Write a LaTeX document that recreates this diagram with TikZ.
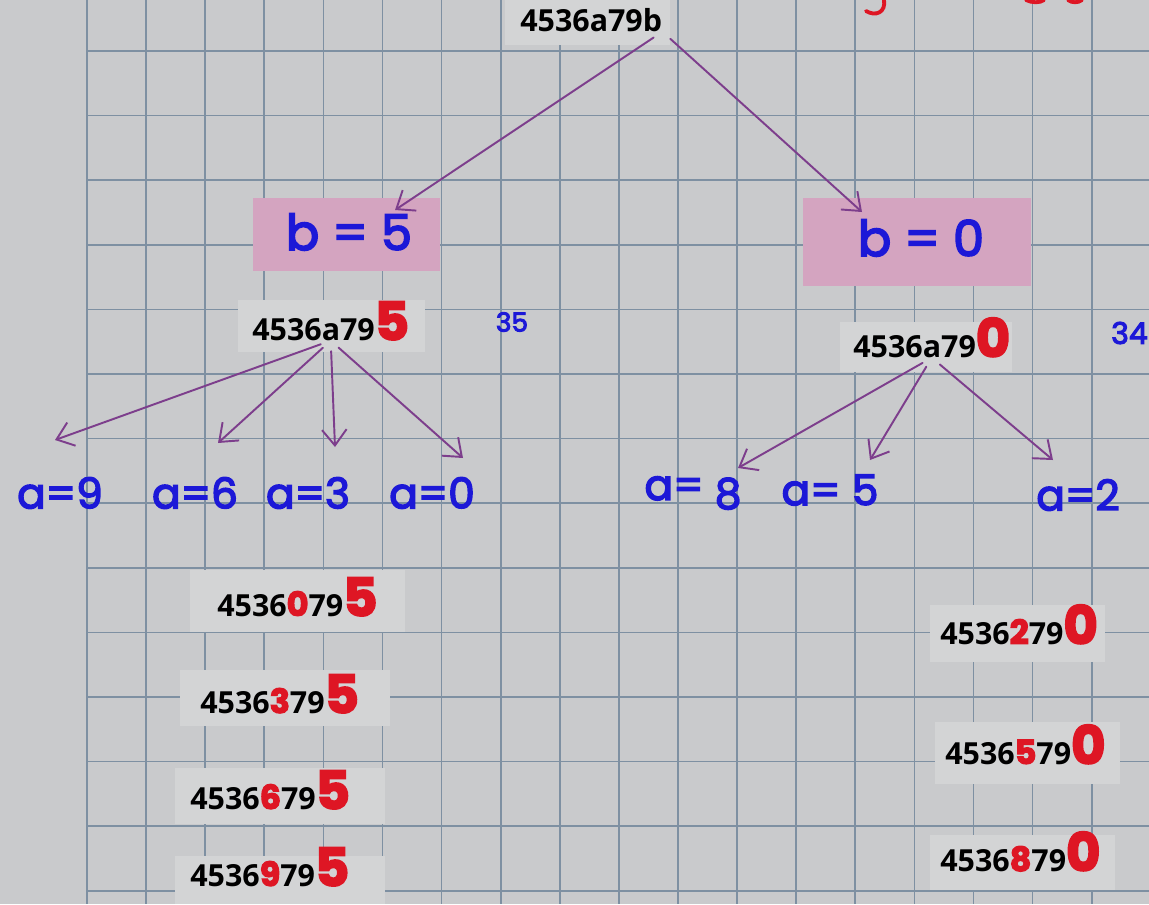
\documentclass[tikz,border=0pt]{standalone}
\usepackage{fontspec}
\setmainfont{Open Sans}
\newfontfamily\handfont[FakeBold=3.5]{Poppins}
\usepackage{xcolor}
\definecolor{paper}{RGB}{201,202,204}
\definecolor{patch}{RGB}{211,212,213}
\definecolor{gridline}{RGB}{126,144,162}
\definecolor{pinkbox}{RGB}{212,164,192}
\definecolor{inkblue}{RGB}{28,24,215}
\definecolor{inkred}{RGB}{222,22,36}
\definecolor{arrowpurple}{RGB}{125,62,140}
\usetikzlibrary{arrows.meta, positioning, calc}
\newcommand{\redend}[1]{{\handfont\fontsize{30}{30}\selectfont\textcolor{inkred}{#1}}}
\newcommand{\redmid}[1]{{\handfont\fontsize{19}{19}\selectfont\textcolor{inkred}{#1}}}

\begin{document}
\begin{tikzpicture}[x=0.02cm, y=-0.02cm,
  hexstr/.style={font=\bfseries\fontsize{17.3}{18}\selectfont, inner sep=0pt, anchor=base west},
  hand/.style={font=\handfont\fontsize{24}{24}\selectfont, text=inkblue, inner sep=0pt},
  branch/.style={-{Straight Barb[length=9pt,width=14pt]}, line width=1.1pt, arrowpurple, line cap=round, shorten <=6pt}]

% papier
\useasboundingbox (0,0) rectangle (1149,904);
\fill[paper] (0,0) rectangle (1149,904);
\foreach \k in {0,...,17}
  \draw[gridline, line width=1pt] ({87+59.1*\k},0) -- ({87+59.1*\k},904);
\foreach \k in {0,...,13}
  \draw[gridline, line width=1pt] (87,{51+64.6*\k}) -- (1149,{51+64.6*\k});

% captures collees
\fill[patch] (505,0) rectangle (670,45);
\fill[patch] (238,300) rectangle (425,352);
\fill[patch] (840,322) rectangle (1012,372);
\fill[patch] (190,570) rectangle (405,632);
\fill[patch] (180,670) rectangle (390,726);
\fill[patch] (175,768) rectangle (385,824);
\fill[patch] (175,856) rectangle (385,904);
\fill[patch] (930,605) rectangle (1105,662);
\fill[patch] (935,722) rectangle (1120,784);
\fill[patch] (930,835) rectangle (1115,890);

% cases roses
\fill[pinkbox] (253,198) rectangle (440,271);
\fill[pinkbox] (803,198) rectangle (1031,286);

% chaine de depart
\node[hexstr] (root) at (520,31) {4536a79b};

% premier choix : b
\node[hand, font=\handfont\fontsize{28}{28}\selectfont] (bfive) at (349,232) {b = 5};
\node[hand, font=\handfont\fontsize{28}{28}\selectfont] (bzero) at (921,238) {b = 0};
\node[hexstr] (midl) at (252,340) {4536a79\redend{5}};
\node[hexstr] (midr) at (853,357) {4536a79\redend{0}};
\node[hand, font=\handfont\fontsize{15}{15}\selectfont] (nl) at (512,322) {35};
\node[hand, font=\handfont\fontsize{17}{17}\selectfont, anchor=east] (nr) at (1148,333) {34};

% second choix : a
\node[hand] (anine) at (60,493) {a=9};
\node[hand] (asix) at (195,493) {a=6};
\node[hand] (athree) at (308,493) {a=3};
\node[hand] (azero) at (432,493) {a=0};
\node[hand] (aeight) at (693,493) {a= \raisebox{-5pt}{8}};
\node[hand] (afive) at (830,490) {a= 5};
\node[hand] (atwo) at (1078,495) {a=2};

% bouts de fleches
\coordinate (tl) at (395,210);
\coordinate (tr) at (862,212);
\coordinate (t9) at (55,440);
\coordinate (t6) at (218,443);
\coordinate (t3) at (335,447);
\coordinate (t0) at (463,458);
\coordinate (t8) at (738,468);
\coordinate (t5) at (870,460);
\coordinate (t2) at (1053,460);

% resultats
\node[hexstr] (ll1) at (217,616) {4536\redmid{0}79\redend{5}};
\node[hexstr] (ll2) at (200,713) {4536\redmid{3}79\redend{5}};
\node[hexstr] (ll3) at (190,809) {4536\redmid{6}79\redend{5}};
\node[hexstr] (ll4) at (190,886) {4536\redmid{9}79\redend{5}};
\node[hexstr] (rr1) at (940,644) {4536\redmid{2}79\redend{0}};
\node[hexstr] (rr2) at (945,764) {4536\redmid{5}79\redend{0}};
\node[hexstr] (rr3) at (940,871) {4536\redmid{8}79\redend{0}};

% traces rouges coupees en haut
\draw[inkred, line width=2.2pt, line cap=round] (884,0) .. controls (886,12) and (876,17) .. (866,11);
\draw[inkred, line width=2.2pt, line cap=round] (1026,0) .. controls (1032,3) and (1040,3) .. (1044,0);
\draw[inkred, line width=2.2pt, line cap=round] (1068,0) .. controls (1072,3) and (1078,3) .. (1082,0);

% fleches
\draw[branch] (root.south east) -- (tl);
\draw[branch] (root.south east) -- (tr);
\draw[branch] (midl.south) -- (t9);
\draw[branch] (midl.south) -- (t6);
\draw[branch] (midl.south) -- (t3);
\draw[branch] (midl.south) -- (t0);
\draw[branch] (midr.south) -- (t8);
\draw[branch] (midr.south) -- (t5);
\draw[branch] (midr.south) -- (t2);
\end{tikzpicture}
\end{document}
